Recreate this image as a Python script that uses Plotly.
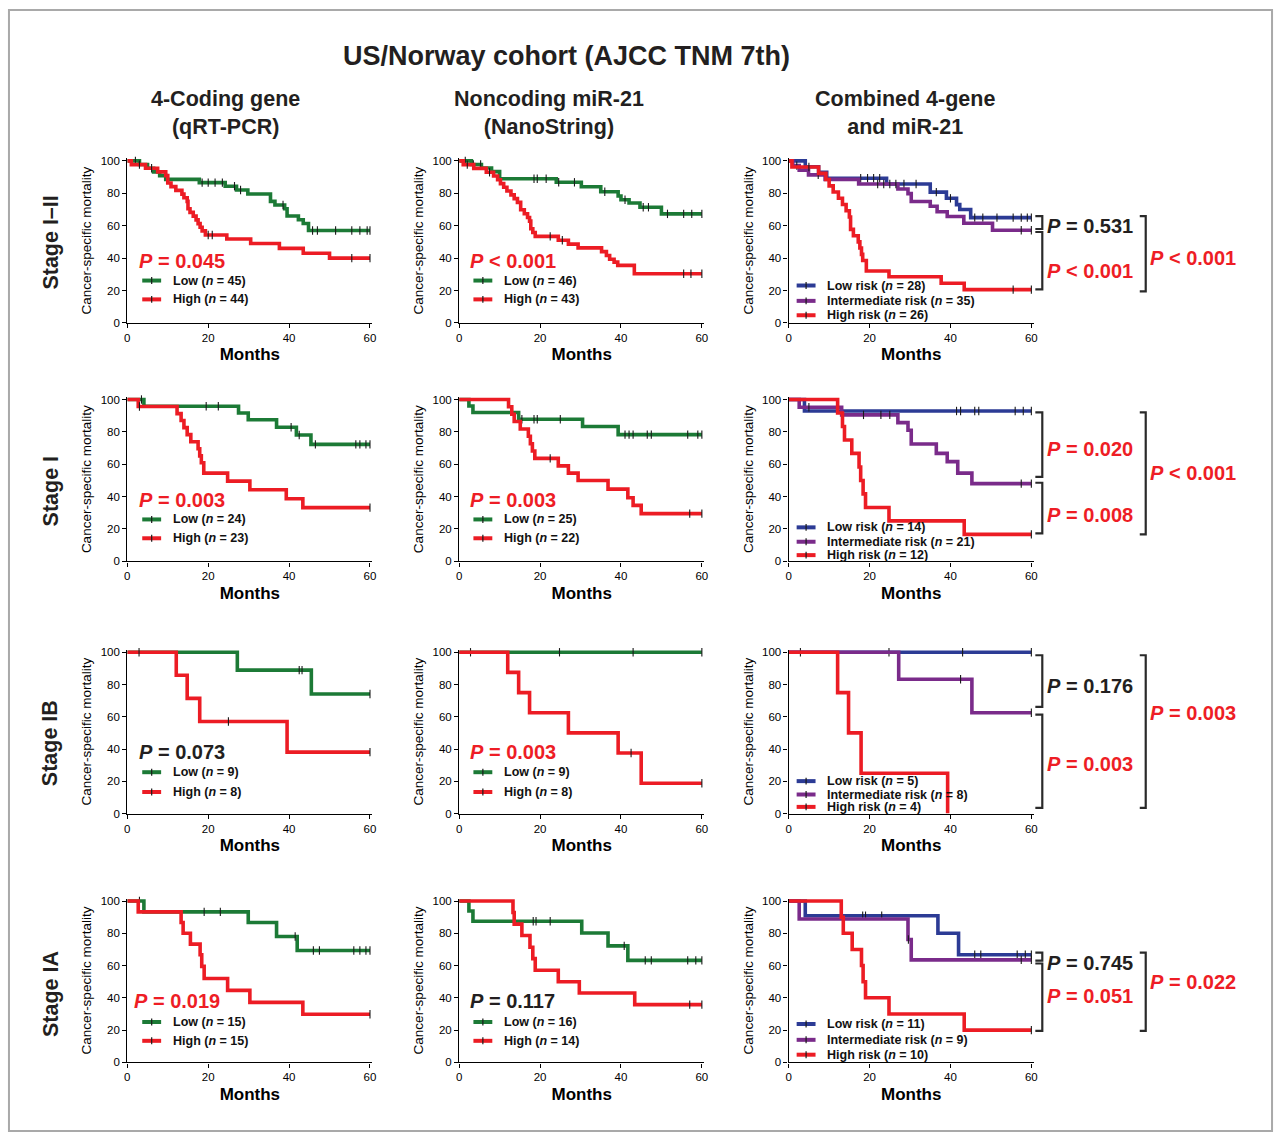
import plotly.graph_objects as go

# ======================= DATA =======================
MONTH_TICKS = [0, 20, 40, 60]
MORT_TICKS = [0, 20, 40, 60, 80, 100]
TITLE = "US/Norway cohort (AJCC TNM 7th)"
ROW_LABELS = ["Stage I\u2013II", "Stage I", "Stage IB", "Stage IA"]
COL_LABELS = ["4-Coding gene<br>(qRT-PCR)", "Noncoding miR-21<br>(NanoString)", "Combined 4-gene<br>and miR-21"]
TWO_GROUPS = ["Low", "High"]
THREE_GROUPS = ["Low risk", "Intermediate risk", "High risk"]

# event times (months), survival after event (%), censor times (months)
# ---- Stage I-II ----
R1C1_LOW_T = [3.0, 5.0, 6.5, 8.0, 9.5, 17.8, 24.2, 27.0, 29.8, 35.4, 36.5, 38.9, 39.5, 42.3, 43.5, 44.8]
R1C1_LOW_S = [97.8, 95.5, 93.2, 90.9, 88.6, 86.6, 84.4, 82.0, 79.6, 75.0, 72.8, 70.5, 66.0, 63.7, 61.4, 57.0]
R1C1_LOW_C = [2.0, 18.5, 20.0, 21.7, 23.5, 26.5, 28.0, 38.5, 45.8, 47.0, 51.5, 55.5, 57.5, 59.3, 60.0]
R1C1_HIGH_T = [1.0, 4.5, 7.5, 9.5, 10.0, 10.8, 12.0, 13.5, 14.0, 14.8, 15.0, 15.5, 16.3, 17.0, 17.5, 18.0, 18.5, 19.3, 24.6, 30.5, 37.6, 43.5, 50.0]
R1C1_HIGH_S = [97.7, 95.5, 93.2, 90.9, 86.4, 84.1, 81.8, 79.5, 77.3, 75.0, 70.5, 68.2, 65.9, 63.6, 61.3, 59.0, 56.8, 54.3, 51.8, 49.0, 46.0, 43.0, 40.0]
R1C1_HIGH_C = [3.0, 6.0, 20.0, 21.0, 55.5, 60.0]
R1C1_N = [45, 44]

R1C2_LOW_T = [3.0, 5.5, 8.0, 10.0, 24.0, 30.2, 35.0, 39.3, 40.0, 42.0, 44.7, 50.0]
R1C2_LOW_S = [97.8, 95.6, 93.4, 89.0, 86.8, 84.0, 81.0, 78.3, 76.0, 74.0, 71.4, 67.3]
R1C2_LOW_C = [1.5, 3.5, 5.3, 18.5, 19.3, 21.5, 24.6, 28.5, 36.0, 41.0, 45.5, 46.8, 51.5, 55.5, 57.5, 60.0]
R1C2_HIGH_T = [1.0, 3.6, 6.7, 8.5, 9.5, 10.2, 11.0, 11.8, 12.8, 13.6, 14.4, 15.2, 16.1, 16.9, 17.4, 17.7, 18.2, 18.8, 24.5, 27.0, 29.4, 35.2, 36.4, 37.2, 38.3, 39.2, 43.3]
R1C2_HIGH_S = [97.7, 95.4, 93.0, 90.7, 88.4, 86.0, 83.7, 81.4, 79.0, 76.7, 74.4, 69.8, 67.4, 65.1, 62.8, 58.1, 55.8, 53.4, 51.0, 48.6, 46.3, 44.0, 41.6, 39.3, 37.5, 35.5, 30.3]
R1C2_HIGH_C = [2.0, 7.5, 22.5, 25.5, 55.5, 57.3, 60.0]
R1C2_N = [46, 43]

R1C3_LOW_T = [4.1, 7.4, 9.4, 24.2, 35.0, 39.0, 41.5, 42.3, 45.0]
R1C3_LOW_S = [96.4, 92.9, 89.3, 85.7, 80.7, 76.9, 73.0, 70.0, 65.0]
R1C3_LOW_C = [17.8, 19.5, 21.0, 22.5, 28.5, 31.5, 36.5, 40.0, 46.0, 48.0, 51.5, 55.5, 57.5, 59.0, 60.0]
R1C3_INT_T = [1.0, 2.6, 4.9, 9.0, 17.3, 27.0, 29.5, 30.3, 35.0, 36.7, 39.2, 43.3, 50.4]
R1C3_INT_S = [97.1, 94.3, 91.4, 88.6, 85.7, 82.7, 79.8, 74.9, 72.0, 68.6, 65.7, 61.5, 57.2]
R1C3_INT_C = [2.0, 7.3, 22.0, 23.5, 25.0, 26.5, 57.5, 60.0]
R1C3_HIGH_T = [0.8, 7.4, 9.2, 10.0, 11.0, 12.3, 13.3, 14.2, 15.0, 15.3, 16.0, 17.2, 17.6, 18.0, 18.3, 19.2, 24.8, 37.7, 43.4]
R1C3_HIGH_S = [96.2, 92.3, 88.5, 84.6, 80.8, 76.9, 73.1, 69.2, 65.4, 57.7, 53.8, 50.0, 46.2, 42.3, 38.5, 32.0, 28.5, 24.5, 20.5]
R1C3_HIGH_C = [5.0, 55.5, 60.0]
R1C3_N = [28, 35, 26]

# ---- Stage I ----
R2C1_LOW_T = [4.1, 27.5, 29.9, 36.9, 41.8, 45.4]
R2C1_LOW_S = [95.8, 91.7, 87.5, 82.9, 78.1, 72.3]
R2C1_LOW_C = [3.5, 19.5, 22.5, 40.5, 42.5, 46.5, 56.5, 57.5, 59.0, 60.0]
R2C1_HIGH_T = [2.7, 12.3, 13.3, 14.0, 14.8, 15.7, 17.5, 17.9, 18.3, 18.9, 24.8, 30.3, 39.3, 43.4]
R2C1_HIGH_S = [95.7, 91.3, 87.0, 82.6, 78.3, 73.9, 69.6, 65.2, 60.9, 54.5, 49.6, 44.2, 38.7, 33.2]
R2C1_HIGH_C = [3.0, 60.0]
R2C1_N = [24, 23]

R2C2_LOW_T = [2.4, 3.4, 14.7, 30.5, 39.3]
R2C2_LOW_S = [96.0, 92.0, 87.8, 83.3, 78.3]
R2C2_LOW_C = [15.5, 18.5, 19.3, 25.0, 41.0, 42.0, 43.0, 46.5, 47.5, 56.5, 59.0, 60.0]
R2C2_HIGH_T = [12.2, 13.0, 13.6, 15.1, 17.1, 17.6, 18.1, 18.7, 24.5, 27.0, 29.4, 36.8, 41.7, 43.0, 45.0]
R2C2_HIGH_S = [95.5, 90.9, 86.4, 81.8, 77.3, 72.7, 68.2, 63.6, 59.0, 54.5, 50.0, 44.6, 39.3, 34.6, 29.5]
R2C2_HIGH_C = [22.5, 57.0, 60.0]
R2C2_N = [25, 22]

R2C3_LOW_T = [3.9]
R2C3_LOW_S = [92.9]
R2C3_LOW_C = [41.5, 42.5, 46.0, 47.0, 56.0, 58.0, 60.0]
R2C3_INT_T = [2.6, 13.1, 27.0, 29.5, 30.3, 36.5, 39.2, 41.8, 45.3]
R2C3_INT_S = [95.2, 90.5, 85.7, 81.0, 72.5, 66.7, 61.6, 54.5, 48.0]
R2C3_INT_C = [5.0, 18.5, 22.8, 25.0, 57.5, 60.0]
R2C3_HIGH_T = [12.1, 13.3, 13.8, 15.6, 17.4, 17.8, 18.4, 19.0, 24.8, 43.4]
R2C3_HIGH_S = [91.7, 83.3, 75.0, 66.7, 58.3, 50.0, 41.7, 33.3, 25.0, 16.7]
R2C3_HIGH_C = [60.0]
R2C3_N = [14, 21, 12]

# ---- Stage IB ----
R3C1_LOW_T = [27.2, 45.5]
R3C1_LOW_S = [88.9, 74.1]
R3C1_LOW_C = [42.5, 43.2, 60.0]
R3C1_HIGH_T = [12.1, 14.8, 17.9, 39.5]
R3C1_HIGH_S = [85.7, 71.4, 57.1, 38.1]
R3C1_HIGH_C = [2.9, 25.0, 60.0]
R3C1_N = [9, 8]

R3C2_LOW_T = []
R3C2_LOW_S = []
R3C2_LOW_C = [2.8, 24.8, 43.0, 60.0]
R3C2_HIGH_T = [12.0, 14.7, 17.4, 27.0, 39.3, 45.0]
R3C2_HIGH_S = [87.5, 75.0, 62.5, 50.0, 37.5, 18.75]
R3C2_HIGH_C = [42.5, 60.0]
R3C2_N = [9, 8]

R3C3_LOW_T = []
R3C3_LOW_S = []
R3C3_LOW_C = [2.9, 24.8, 43.0, 60.0]
R3C3_INT_T = [27.2, 45.3]
R3C3_INT_S = [83.3, 62.5]
R3C3_INT_C = [42.5, 60.0]
R3C3_HIGH_T = [12.1, 14.8, 17.9, 39.3]
R3C3_HIGH_S = [75.0, 50.0, 25.0, 0.0]
R3C3_HIGH_C = []
R3C3_N = [5, 8, 4]

# ---- Stage IA ----
R4C1_LOW_T = [4.1, 29.9, 36.9, 42.0]
R4C1_LOW_S = [93.3, 86.7, 78.0, 69.3]
R4C1_LOW_C = [3.0, 19.0, 23.0, 41.5, 46.0, 47.5, 56.0, 57.5, 59.0, 60.0]
R4C1_HIGH_T = [2.7, 13.3, 13.8, 15.6, 18.0, 18.4, 19.0, 24.8, 30.3, 43.4]
R4C1_HIGH_S = [93.3, 86.7, 80.0, 73.3, 66.7, 59.5, 52.0, 44.6, 37.2, 29.8]
R4C1_HIGH_C = [60.0]
R4C1_N = [15, 15]

R4C2_LOW_T = [2.4, 3.4, 30.3, 36.8, 41.7]
R4C2_LOW_S = [93.8, 87.5, 80.2, 72.2, 63.2]
R4C2_LOW_C = [18.3, 19.0, 22.5, 40.8, 46.0, 47.5, 56.5, 58.5, 60.0]
R4C2_HIGH_T = [13.3, 13.6, 15.5, 17.5, 18.2, 18.8, 24.5, 29.7, 43.4]
R4C2_HIGH_S = [92.9, 85.7, 78.6, 71.4, 64.3, 57.1, 50.0, 43.0, 35.8]
R4C2_HIGH_C = [57.0, 60.0]
R4C2_N = [16, 14]

R4C3_LOW_T = [4.1, 36.9, 42.0]
R4C3_LOW_S = [90.9, 80.0, 66.7]
R4C3_LOW_C = [18.3, 19.0, 23.0, 46.0, 47.5, 56.5, 58.5, 60.0]
R4C3_INT_T = [2.6, 29.5, 30.3]
R4C3_INT_S = [88.9, 76.2, 63.5]
R4C3_INT_C = [29.6, 57.5, 60.0]
R4C3_HIGH_T = [13.0, 13.5, 15.7, 18.0, 18.4, 19.0, 24.8, 43.4]
R4C3_HIGH_S = [90.0, 80.0, 70.0, 60.0, 50.0, 40.0, 30.0, 20.0]
R4C3_HIGH_C = [60.0]
R4C3_N = [11, 9, 10]

# P values (two-group panels: one per row; combined panels: low-vs-int, int-vs-high, overall)
P_GENE = ["= 0.045", "= 0.003", "= 0.073", "= 0.019"]
P_MIR = ["< 0.001", "= 0.003", "= 0.003", "= 0.117"]
P_COMB = [["= 0.531", "< 0.001", "< 0.001"],
          ["= 0.020", "= 0.008", "< 0.001"],
          ["= 0.176", "= 0.003", "= 0.003"],
          ["= 0.745", "= 0.051", "= 0.022"]]
P_GENE_SIG = [True, True, False, True]
P_MIR_SIG = [True, True, True, False]
P_COMB_SIG = [[False, True, True], [True, True, True], [False, True, True], [False, True, True]]

PANELS = [
    (0, 0, [(R1C1_LOW_T, R1C1_LOW_S, R1C1_LOW_C), (R1C1_HIGH_T, R1C1_HIGH_S, R1C1_HIGH_C)], R1C1_N),
    (0, 1, [(R1C2_LOW_T, R1C2_LOW_S, R1C2_LOW_C), (R1C2_HIGH_T, R1C2_HIGH_S, R1C2_HIGH_C)], R1C2_N),
    (0, 2, [(R1C3_LOW_T, R1C3_LOW_S, R1C3_LOW_C), (R1C3_INT_T, R1C3_INT_S, R1C3_INT_C), (R1C3_HIGH_T, R1C3_HIGH_S, R1C3_HIGH_C)], R1C3_N),
    (1, 0, [(R2C1_LOW_T, R2C1_LOW_S, R2C1_LOW_C), (R2C1_HIGH_T, R2C1_HIGH_S, R2C1_HIGH_C)], R2C1_N),
    (1, 1, [(R2C2_LOW_T, R2C2_LOW_S, R2C2_LOW_C), (R2C2_HIGH_T, R2C2_HIGH_S, R2C2_HIGH_C)], R2C2_N),
    (1, 2, [(R2C3_LOW_T, R2C3_LOW_S, R2C3_LOW_C), (R2C3_INT_T, R2C3_INT_S, R2C3_INT_C), (R2C3_HIGH_T, R2C3_HIGH_S, R2C3_HIGH_C)], R2C3_N),
    (2, 0, [(R3C1_LOW_T, R3C1_LOW_S, R3C1_LOW_C), (R3C1_HIGH_T, R3C1_HIGH_S, R3C1_HIGH_C)], R3C1_N),
    (2, 1, [(R3C2_LOW_T, R3C2_LOW_S, R3C2_LOW_C), (R3C2_HIGH_T, R3C2_HIGH_S, R3C2_HIGH_C)], R3C2_N),
    (2, 2, [(R3C3_LOW_T, R3C3_LOW_S, R3C3_LOW_C), (R3C3_INT_T, R3C3_INT_S, R3C3_INT_C), (R3C3_HIGH_T, R3C3_HIGH_S, R3C3_HIGH_C)], R3C3_N),
    (3, 0, [(R4C1_LOW_T, R4C1_LOW_S, R4C1_LOW_C), (R4C1_HIGH_T, R4C1_HIGH_S, R4C1_HIGH_C)], R4C1_N),
    (3, 1, [(R4C2_LOW_T, R4C2_LOW_S, R4C2_LOW_C), (R4C2_HIGH_T, R4C2_HIGH_S, R4C2_HIGH_C)], R4C2_N),
    (3, 2, [(R4C3_LOW_T, R4C3_LOW_S, R4C3_LOW_C), (R4C3_INT_T, R4C3_INT_S, R4C3_INT_C), (R4C3_HIGH_T, R4C3_HIGH_S, R4C3_HIGH_C)], R4C3_N),
]

# ======================= LAYOUT / STYLE =======================
W, H = 1282, 1140
FONT = "Arial, 'Liberation Sans', Helvetica, sans-serif"
GREEN, RED, BLUE, PURPLE = "#1c7a36", "#ec1c24", "#2c3b95", "#7a2b8a"
RED_TXT, BLACK_TXT = "#ee1d25", "#231f20"
TICKC = "#1a1a1a"

def px(x):
    return x / W

def py(y):
    return 1 - y / H

COL_X0 = [125.0, 458.7, 790.0]
COL_X60 = [369.0, 702.7, 1034.0]
ROW_Y100 = [158.3, 399.0, 654.0, 905.0]
ROW_Y0 = [321.7, 562.3, 816.7, 1067.7]
XMAX, YMAX = 60.6, 101.5

LEG_LINE_X = [140, 473, 798]
LEG_TEXT_X = [169, 502, 827]
LEG_Y2 = [[279, 298], [520, 539], [775, 795], [1027, 1046]]
LEG_Y3 = [[284, 299.5, 314], [528, 542.5, 556], [784, 797.5, 810], [1029, 1045, 1060]]
P_POS = {0: [(135, 259), (135, 500), (135, 755), (130, 1006)],
         1: [(468, 259), (468, 500), (468, 755), (468, 1006)]}
# combined panel brackets: (y_top, y_bot) for low-int, int-high, overall ; text y for each
BRK = [[(214, 227), (230, 288), (214, 290)],
       [(412, 477), (483, 534), (412, 535)],
       [(657, 709), (717, 811), (657, 811)],
       [(957, 965), (968, 1036), (957, 1036)]]
BRK_TXT_Y = [[224, 269, 256], [449, 516, 473], [688, 767, 715], [967, 1001, 987]]


def surv_at(t, T, S):
    v = 100.0
    for ti, si in zip(T, S):
        if ti <= t:
            v = si
    return v


fig = go.Figure()
shapes, annotations = [], []
layout_axes = {}

for (r, c, curves, ns) in PANELS:
    k = r * 3 + c + 1
    xid = "x" if k == 1 else f"x{k}"
    yid = "y" if k == 1 else f"y{k}"
    colors = [GREEN, RED] if len(curves) == 2 else [BLUE, PURPLE, RED]
    names = TWO_GROUPS if len(curves) == 2 else THREE_GROUPS
    for (T, S, C), col in zip(curves, colors):
        end = max(C) if C else T[-1]
        last = S[-1] if S else 100.0
        fig.add_trace(go.Scatter(
            x=[0] + T + [end], y=[100] + S + [last], mode="lines",
            line=dict(color=col, width=3.6, shape="hv"),
            xaxis=xid, yaxis=yid, showlegend=False, hoverinfo="skip"))
        if C:
            fig.add_trace(go.Scatter(
                x=C, y=[surv_at(t, T, S) for t in C], mode="markers",
                marker=dict(symbol="line-ns", size=6, color=TICKC, line=dict(width=1.1, color=TICKC)),
                cliponaxis=False, xaxis=xid, yaxis=yid, showlegend=False, hoverinfo="skip"))

    # axes
    x0, x60 = COL_X0[c], COL_X60[c]
    xw = (x60 - x0) * XMAX / 60
    y0p, y100p = ROW_Y0[r], ROW_Y100[r]
    yh = (y0p - y100p) * YMAX / 100
    axkey = "" if k == 1 else str(k)
    layout_axes["xaxis" + axkey] = dict(
        domain=[px(x0), px(x0 + xw)], anchor=yid, range=[0, XMAX],
        tickvals=MONTH_TICKS, ticks="outside", ticklen=4, tickwidth=1.2, tickcolor="black",
        showline=True, linecolor="black", linewidth=1.4, showgrid=False, zeroline=False,
        tickfont=dict(size=11.5, color="black", family=FONT),
        title=dict(text="<b>Months</b>", font=dict(size=17, color="black", family=FONT), standoff=5))
    layout_axes["yaxis" + axkey] = dict(
        domain=[py(y0p), py(y0p - yh)], anchor=xid, range=[0, YMAX],
        tickvals=MORT_TICKS, ticks="outside", ticklen=4, tickwidth=1.2, tickcolor="black",
        showline=True, linecolor="black", linewidth=1.4, showgrid=False, zeroline=False,
        tickfont=dict(size=11.5, color="black", family=FONT),
        title=dict(text="Cancer-specific mortality", font=dict(size=13.5, color="black", family=FONT), standoff=5))

    # legend (drawn manually)
    ly_list = LEG_Y2[r] if len(curves) == 2 else LEG_Y3[r]
    for col, nm, n, ly in zip(colors, names, ns, ly_list):
        lx = LEG_LINE_X[c]
        shapes.append(dict(type="line", xref="paper", yref="paper", x0=px(lx), x1=px(lx + 19),
                           y0=py(ly), y1=py(ly), line=dict(color=col, width=4)))
        shapes.append(dict(type="line", xref="paper", yref="paper", x0=px(lx + 9.5), x1=px(lx + 9.5),
                           y0=py(ly - 3.5), y1=py(ly + 3.5), line=dict(color=TICKC, width=1.2)))
        annotations.append(dict(xref="paper", yref="paper", x=px(LEG_TEXT_X[c]), y=py(ly),
                                xanchor="left", yanchor="middle", showarrow=False,
                                text=f"<b>{nm} (<i>n</i> = {n})</b>",
                                font=dict(size=12.5, color="#111", family=FONT)))

# P values, two-group panels
for c, (vals, sigs) in enumerate([(P_GENE, P_GENE_SIG), (P_MIR, P_MIR_SIG)]):
    for r, (v, s) in enumerate(zip(vals, sigs)):
        x, y = P_POS[c][r]
        annotations.append(dict(xref="paper", yref="paper", x=px(x), y=py(y), xanchor="left",
                                yanchor="middle", showarrow=False, text=f"<b><i>P</i> {v}</b>",
                                font=dict(size=20, color=RED_TXT if s else BLACK_TXT, family=FONT)))

# P values + brackets, combined panels
for r in range(4):
    for j in range(3):
        yt, yb = BRK[r][j]
        xl, xr = (1038, 1045) if j < 2 else (1143, 1149)
        path = (f"M{px(xl)},{py(yt)} L{px(xr)},{py(yt)} L{px(xr)},{py(yb)} L{px(xl)},{py(yb)}")
        shapes.append(dict(type="path", xref="paper", yref="paper", path=path,
                           line=dict(color="#2a2a2a", width=2.2)))
        tx = 1048 if j < 2 else 1151
        annotations.append(dict(xref="paper", yref="paper", x=px(tx), y=py(BRK_TXT_Y[r][j]),
                                xanchor="left", yanchor="middle", showarrow=False,
                                text=f"<b><i>P</i> {P_COMB[r][j]}</b>",
                                font=dict(size=20, color=RED_TXT if P_COMB_SIG[r][j] else BLACK_TXT,
                                          family=FONT)))

# titles
annotations.append(dict(xref="paper", yref="paper", x=px(567), y=py(52), xanchor="center", yanchor="middle",
                        showarrow=False, text=f"<b>{TITLE}</b>",
                        font=dict(size=27, color=BLACK_TXT, family=FONT)))
for c, (lab, cx) in enumerate(zip(COL_LABELS, [224, 549, 907])):
    annotations.append(dict(xref="paper", yref="paper", x=px(cx), y=py(109.5), xanchor="center",
                            yanchor="middle", showarrow=False, text=f"<b>{lab}</b>",
                            font=dict(size=21.5, color=BLACK_TXT, family=FONT)))
for lab, cy in zip(ROW_LABELS, [241, 491, 746, 999]):
    annotations.append(dict(xref="paper", yref="paper", x=px(48), y=py(cy), xanchor="center",
                            yanchor="middle", showarrow=False, textangle=-90, text=f"<b>{lab}</b>",
                            font=dict(size=21.5, color=BLACK_TXT, family=FONT)))

# page frame
shapes.insert(0, dict(type="rect", xref="paper", yref="paper", x0=px(6), x1=px(1276), y0=py(6), y1=py(1137),
                      line=dict(color="#a9a9a9", width=2), layer="below"))

fig.update_layout(
    width=W, height=H, margin=dict(l=0, r=0, t=0, b=0),
    paper_bgcolor="white", plot_bgcolor="white",
    font=dict(family=FONT, color="black"),
    showlegend=False, shapes=shapes, annotations=annotations, **layout_axes)

fig.write_html("out.html", config={"displayModeBar": False},
               post_script="document.body.style.margin='0';document.body.style.overflow='hidden';")
